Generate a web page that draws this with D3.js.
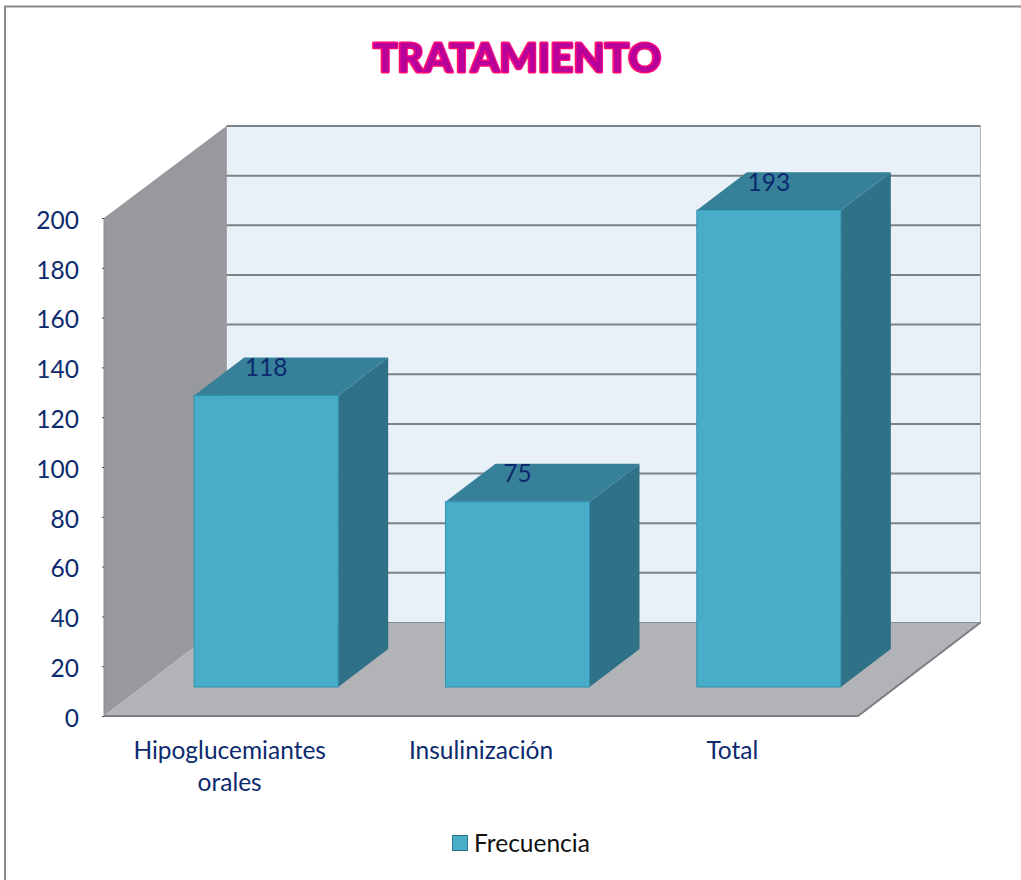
<!DOCTYPE html>
<html><head><meta charset="utf-8">
<style>html,body{margin:0;padding:0;background:#fff}svg{display:block}text{font-family:Lato,"Open Sans",sans-serif}</style>
<script src="https://cdn.jsdelivr.net/npm/d3@7"></script></head>
<body><svg id="c" width="1021" height="880"></svg>
<script>
const categories=[["Hipoglucemiantes","orales"],["Insulinización"],["Total"]];
const values=[118,75,193];
const yTicks=[0,20,40,60,80,100,120,140,160,180,200];
const seriesName="Frecuencia";
const titleText="TRATAMIENTO";

const svg=d3.select("#c");
const ink="#0c2b6e";
const x0=104,x1=858,dX=122.5;
const y=d3.scaleLinear().domain([0,200]).range([716,218]);
const yBack=d3.scaleLinear().domain([0,200]).range([622.5,126]);
const xAxisBand=d3.scaleBand().domain(d3.range(categories.length)).range([x0,x1]);
const xBar=d3.scaleBand().domain(d3.range(categories.length)).range([x0+36.5,x1+36.5]).paddingInner(.427).paddingOuter(.2135);
const yBar=d3.scaleLinear().domain([0,200]).range([687,193]);
const bdX=50,bdY=38;
const pts=a=>a.map(p=>p.join(",")).join(" ");

// frame
svg.append("path").attr("d","M5,880V6.5H1021").attr("fill","none").attr("stroke","#8a8a8a").attr("stroke-width",2);

// title
svg.append("text").attr("x",517).attr("y",72).attr("text-anchor","middle").attr("font-size",40.5).attr("font-weight",900)
  .attr("fill","#b8009a").attr("stroke","#ff0a78").attr("stroke-width",3).attr("stroke-linejoin","round").attr("paint-order","stroke").text(titleText);

// back wall, side wall, floor
svg.append("polygon").attr("points",pts([[x0+dX,yBack(200)],[x1+dX,yBack(200)],[x1+dX,yBack(0)],[x0+dX,yBack(0)]])).attr("fill","#e8f0f8").attr("stroke","#b5b8bc");
svg.append("polygon").attr("points",pts([[x0,y(200)],[x0+dX,yBack(200)],[x0+dX,yBack(0)],[x0,y(0)]])).attr("fill","#97999c");
svg.append("polygon").attr("points",pts([[x0,y(0)],[x1,y(0)],[x1+dX,yBack(0)],[x0+dX,yBack(0)]])).attr("fill","#b1b3b7");

// gridlines on the back wall
svg.append("g").selectAll("line").data(yTicks.filter(t=>t>0)).join("line")
  .attr("x1",x0+dX).attr("x2",x1+dX).attr("y1",t=>yBack(t)).attr("y2",t=>yBack(t))
  .attr("stroke","#7d8287").attr("stroke-width",2);
svg.append("line").attr("x1",x0+dX).attr("x2",x1+dX).attr("y1",yBack(0)).attr("y2",yBack(0)).attr("stroke","#8a8d90").attr("stroke-width",1);

// floor edges
svg.append("path").attr("d",`M${x0},${y(0)}H${x1}L${x1+dX},${yBack(0)}`).attr("fill","none").attr("stroke","#7b7e82").attr("stroke-width",2);
svg.append("line").attr("x1",x0).attr("x2",x0).attr("y1",y(0)).attr("y2",y(200)).attr("stroke","#8b8d90").attr("stroke-width",1);

// y axis
const yAxis=d3.axisLeft(y).tickValues(yTicks).tickSize(2).tickPadding(23).tickFormat(d3.format("d"));
const ga=svg.append("g").attr("transform",`translate(${x0},0)`).call(yAxis);
ga.select(".domain").remove();
ga.selectAll("line").attr("stroke","#555");
ga.selectAll("text").attr("font-size",24.5).attr("fill",ink).attr("font-family","Lato").attr("dy","0.42em");

// bars
const bars=svg.append("g").selectAll("g").data(values).join("g");
bars.append("polygon").attr("points",(d,i)=>{const l=xBar(i)+xBar.bandwidth(),t=yBar(d),b=yBar(0);
  return pts([[l,t],[l+bdX,t-bdY],[l+bdX,b-bdY],[l,b]]);}).attr("fill","#2f7287");
bars.append("polygon").attr("points",(d,i)=>{const a=xBar(i),c=a+xBar.bandwidth(),t=yBar(d);
  return pts([[a,t],[c,t],[c+bdX,t-bdY],[a+bdX,t-bdY]]);}).attr("fill","#37809a");
bars.append("rect").attr("x",(d,i)=>xBar(i)).attr("y",d=>yBar(d)).attr("width",xBar.bandwidth()).attr("height",d=>yBar(0)-yBar(d))
  .attr("fill","#49adca").attr("stroke","#2f93ae").attr("stroke-width",1);
bars.append("text").attr("x",(d,i)=>xBar(i)+xBar.bandwidth()/2).attr("y",d=>yBar(d)-19.5).attr("text-anchor","middle")
  .attr("font-size",24.5).attr("fill",ink).text(d=>d);

// category labels
const cg=svg.append("g").selectAll("text").data(categories).join("text")
  .attr("text-anchor","middle").attr("font-size",24.5).attr("fill",ink);
cg.selectAll("tspan").data((d,i)=>d.map(s=>({s,i}))).join("tspan")
  .attr("x",d=>xAxisBand(d.i)+xAxisBand.bandwidth()/2)
  .attr("y",(d,j)=>759+j*32).text(d=>d.s);

// legend
svg.append("rect").attr("x",452.5).attr("y",835.5).attr("width",15).attr("height",15).attr("fill","#49adca").attr("stroke","#2f7287");
svg.append("text").attr("x",474).attr("y",852).attr("font-size",24.5).attr("fill","#111").text(seriesName);
</script></body></html>
